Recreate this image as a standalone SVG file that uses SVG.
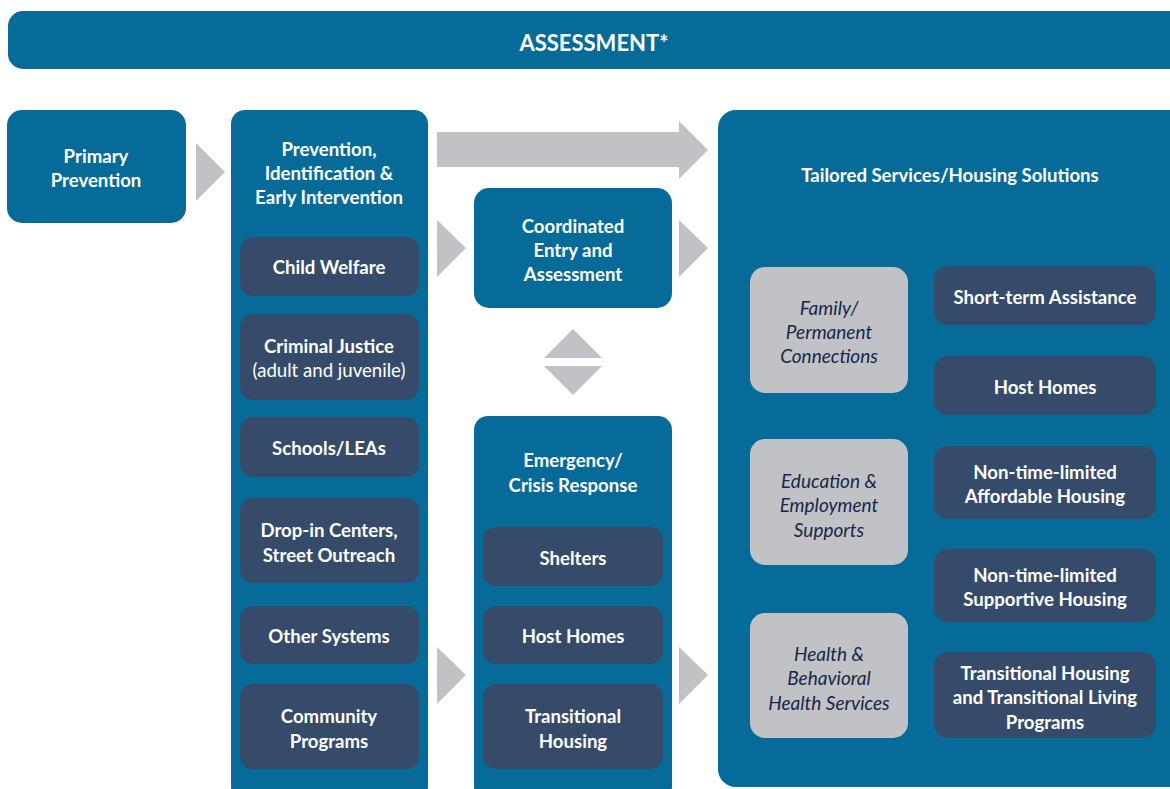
<svg xmlns="http://www.w3.org/2000/svg" width="1170" height="789" viewBox="0 0 1170 789">
<style>
.blue{fill:#066b99}
.dark{fill:#364b6a}
.gray{fill:#c1c2c6}
.arr{fill:#c1c2c6}
text{font-family:Lato,"Open Sans","Liberation Sans",sans-serif;font-size:18.6px;text-anchor:middle;dominant-baseline:central}
.w{fill:#ffffff;font-weight:bold}
.wn{fill:#ffffff;font-weight:normal}
.it{fill:#16284a;font-style:italic;font-size:19px}
</style>
<rect width="1170" height="789" fill="#ffffff"/>
<g id="assessment">
<rect class="blue" x="8" y="11" width="1180" height="58" rx="15"/>
<text class="w" x="594" y="42" style="font-size:22px">ASSESSMENT*</text>
</g>
<g id="connectors">
<polygon class="arr" points="196,143 225,172 196,201"/>
<polygon class="arr" points="437,132 679,132 679,121 708,150 679,179 679,167 437,167"/>
<polygon class="arr" points="437,220 466,248 437,277"/>
<polygon class="arr" points="679,220 708,248 679,277"/>
<polygon class="arr" points="573,329 602,358 544,358"/>
<polygon class="arr" points="544,366 602,366 573,395"/>
<polygon class="arr" points="437,647 466,675 437,704"/>
<polygon class="arr" points="679,647 708,675 679,704"/>
</g>
<g id="primary-prevention">
<rect class="blue" x="7" y="110" width="179" height="113" rx="15"/>
<text class="w" x="96" y="156">Primary</text>
<text class="w" x="96" y="180">Prevention</text>
</g>
<g id="prevention-column">
<rect class="blue" x="231" y="110" width="197" height="690" rx="14"/>
<text class="w" x="329" y="149">Prevention,</text>
<text class="w" x="329" y="173">Identification &amp;</text>
<text class="w" x="329" y="197">Early Intervention</text>
</g>
<g id="child-welfare">
<rect class="dark" x="240" y="237" width="179" height="59" rx="13"/>
<text class="w" x="329" y="267">Child Welfare</text>
</g>
<g id="criminal-justice">
<rect class="dark" x="240" y="314" width="179" height="86" rx="13"/>
<text class="w" x="329" y="346">Criminal Justice</text>
<text class="wn" x="329" y="370">(adult and juvenile)</text>
</g>
<g id="schools">
<rect class="dark" x="240" y="417" width="179" height="60" rx="13"/>
<text class="w" x="329" y="448">Schools/LEAs</text>
</g>
<g id="drop-in">
<rect class="dark" x="240" y="498" width="179" height="85" rx="13"/>
<text class="w" x="329" y="530">Drop-in Centers,</text>
<text class="w" x="329" y="555">Street Outreach</text>
</g>
<g id="other-systems">
<rect class="dark" x="240" y="606" width="179" height="58" rx="13"/>
<text class="w" x="329" y="636">Other Systems</text>
</g>
<g id="community-programs">
<rect class="dark" x="240" y="684" width="179" height="85" rx="13"/>
<text class="w" x="329" y="716">Community</text>
<text class="w" x="329" y="741">Programs</text>
</g>
<g id="coordinated-entry">
<rect class="blue" x="474" y="188" width="198" height="120" rx="15"/>
<text class="w" x="573" y="226">Coordinated</text>
<text class="w" x="573" y="250">Entry and</text>
<text class="w" x="573" y="274">Assessment</text>
</g>
<g id="emergency-column">
<rect class="blue" x="474" y="416" width="198" height="384" rx="14"/>
<text class="w" x="573" y="460">Emergency/</text>
<text class="w" x="573" y="485">Crisis Response</text>
</g>
<g id="shelters">
<rect class="dark" x="483" y="527" width="180" height="59" rx="13"/>
<text class="w" x="573" y="558">Shelters</text>
</g>
<g id="host-homes-mid">
<rect class="dark" x="483" y="606" width="180" height="58" rx="13"/>
<text class="w" x="573" y="636">Host Homes</text>
</g>
<g id="transitional-housing-mid">
<rect class="dark" x="483" y="684" width="180" height="85" rx="13"/>
<text class="w" x="573" y="716">Transitional</text>
<text class="w" x="573" y="741">Housing</text>
</g>
<g id="tailored-services">
<rect class="blue" x="718" y="110" width="470" height="677" rx="18"/>
<text class="w" x="950" y="175">Tailored Services/Housing Solutions</text>
</g>
<g id="family">
<rect class="gray" x="750" y="267" width="158" height="126" rx="15"/>
<text class="it" x="829" y="307">Family/</text>
<text class="it" x="829" y="331">Permanent</text>
<text class="it" x="829" y="355">Connections</text>
</g>
<g id="education">
<rect class="gray" x="750" y="439" width="158" height="126" rx="15"/>
<text class="it" x="829" y="480">Education &amp;</text>
<text class="it" x="829" y="504">Employment</text>
<text class="it" x="829" y="529">Supports</text>
</g>
<g id="health">
<rect class="gray" x="750" y="613" width="158" height="125" rx="15"/>
<text class="it" x="829" y="653">Health &amp;</text>
<text class="it" x="829" y="677">Behavioral</text>
<text class="it" x="829" y="702">Health Services</text>
</g>
<g id="short-term">
<rect class="dark" x="934" y="266" width="222" height="59" rx="14"/>
<text class="w" x="1045" y="297">Short-term Assistance</text>
</g>
<g id="host-homes-right">
<rect class="dark" x="934" y="356" width="222" height="59" rx="14"/>
<text class="w" x="1045" y="387">Host Homes</text>
</g>
<g id="affordable-housing">
<rect class="dark" x="934" y="446" width="222" height="73" rx="14"/>
<text class="w" x="1045" y="472">Non-time-limited</text>
<text class="w" x="1045" y="496">Affordable Housing</text>
</g>
<g id="supportive-housing">
<rect class="dark" x="934" y="549" width="222" height="73" rx="14"/>
<text class="w" x="1045" y="575">Non-time-limited</text>
<text class="w" x="1045" y="599">Supportive Housing</text>
</g>
<g id="transitional-living">
<rect class="dark" x="934" y="652" width="222" height="86" rx="14"/>
<text class="w" x="1045" y="673">Transitional Housing</text>
<text class="w" x="1045" y="697">and Transitional Living</text>
<text class="w" x="1045" y="722">Programs</text>
</g>
</svg>
